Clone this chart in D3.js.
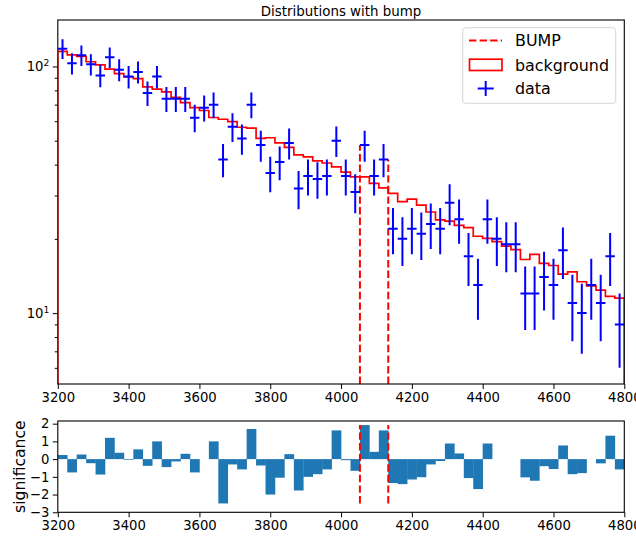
<!DOCTYPE html>
<html>
<head>
<meta charset="utf-8">
<script src="https://cdn.jsdelivr.net/npm/d3@7"></script>
<style>
  body { margin: 0; background: #fff; }
  svg text { font-family: "DejaVu Sans", sans-serif; }
</style>
</head>
<body>
<svg id="chart" width="636" height="538"></svg>
<script>
// ---- data ----
const xMin = 3200, xMax = 4800, nBins = 60;
const dataCounts = [118,103,111,102,92,109,97,91,95,78, 91,74,74,74,62,68,70,42,57,51,
                    70,48,37,41,49,32,36,35,36,50, 36,31,48,36,42,22,20,22,21,23,
                    22,28,24,17,13,24,20,19,19,12, 12,14,13,18,11,10,13,11,17,9];
const background = [115.2,111.4,109.9,104.5,101.4,97.6,93.6,90.7,89.2,82.6,
                    81.0,78.9,75.0,71.4,68.1,66.3,62.1,61.1,59.8,56.7,
                    56.2,51.1,51.4,49.0,47.0,43.8,43.0,41.4,40.6,39.2,
                    37.3,35.7,35.7,33.6,32.2,30.6,28.3,29.0,27.4,25.7,
                    23.9,23.6,22.7,22.2,20.5,20.1,19.5,18.7,18.1,16.5,
                    17.3,15.9,15.6,14.4,14.7,13.4,12.9,12.4,11.7,11.5];
const significance = [0.23,-0.75,0.26,-0.23,-0.87,1.2,0.36,-0.04,0.55,-0.38,
                      1.0,-0.45,-0.13,0.3,-0.75,0,1.0,-2.5,-0.3,-0.58,
                      1.7,-0.36,-2.0,-1.05,0.28,-1.77,-1.0,-0.85,-0.58,1.62,
                      -0.06,-0.66,1.92,0.41,1.62,-1.35,-1.41,-1.15,-1.02,-0.3,
                      -0.11,0.88,0.32,-1.07,-1.69,0.88,0,0,0,-1.03,
                      -1.22,-0.4,-0.56,0.77,-0.85,-0.79,0,-0.24,1.32,-0.58];
const bumpFirstBin = 32, bumpLastBin = 34;
const xTicks = [3200,3400,3600,3800,4000,4200,4400,4600,4800];
const yTopMajor = [10,100];
const yTopMinor = [6,7,8,9,20,30,40,50,60,70,80,90];
const yBotTicks = [-3,-2,-1,0,1,2];
const titleText = "Distributions with bump";
const legendLabels = ["BUMP","background","data"];

// ---- derived ----
const binW = (xMax - xMin) / nBins;
const edges = d3.range(nBins + 1).map(i => xMin + i * binW);
const bumpLo = edges[bumpFirstBin], bumpHi = edges[bumpLastBin + 1];

const svg = d3.select("#chart");
const L = 57.8, R = 624.3;
const x = d3.scaleLinear().domain([xMin, xMax]).range([L, R]);
const topT = 20, topB = 384;
const yTop = d3.scaleLog().domain([5.16, 154.3]).range([topB, topT]);
const botT = 421, botB = 512.3;
const yBot = d3.scaleLinear().domain([-3, 2.15]).range([botB, botT]);

const FS = 13.2;

// ---- top panel ----
const gTop = svg.append("g");
gTop.append("rect").attr("x", L).attr("y", topT).attr("width", R - L).attr("height", topB - topT).attr("fill", "#fff");

const clipTop = svg.append("clipPath").attr("id", "clipTop");
clipTop.append("rect").attr("x", L).attr("y", topT).attr("width", R - L).attr("height", topB - topT);
const gTopPlot = gTop.append("g").attr("clip-path", "url(#clipTop)");

// background step histogram
let pts = [[x(edges[0]), topB + 5]];
background.forEach((v, i) => { pts.push([x(edges[i]), yTop(v)]); pts.push([x(edges[i + 1]), yTop(v)]); });
pts.push([x(edges[nBins]), topB + 5]);
gTopPlot.append("path").attr("d", d3.line()(pts)).attr("fill", "none").attr("stroke", "#ff0000").attr("stroke-width", 1.7);

// bump lines
[[bumpLo, dataCounts[bumpFirstBin]], [bumpHi, dataCounts[bumpLastBin]]].forEach(([bx, top]) => {
  gTopPlot.append("line").attr("x1", x(bx)).attr("x2", x(bx)).attr("y1", topB).attr("y2", yTop(top))
    .attr("stroke", "#ff0000").attr("stroke-width", 2).attr("stroke-dasharray", "7.4,3.2");
});

// data error bars
const gData = gTopPlot.append("g").attr("stroke", "#0000ff").attr("stroke-width", 2);
dataCounts.forEach((n, i) => {
  const cx = (edges[i] + edges[i + 1]) / 2;
  const e = Math.sqrt(n);
  gData.append("line").attr("x1", x(cx)).attr("x2", x(cx)).attr("y1", yTop(n - e)).attr("y2", yTop(n + e));
  gData.append("line").attr("x1", x(edges[i])).attr("x2", x(edges[i + 1])).attr("y1", yTop(n)).attr("y2", yTop(n));
});

// axes top
const axTopX = gTop.append("g").attr("transform", `translate(0,${topB})`)
  .call(d3.axisBottom(x).tickValues(xTicks).tickSize(5).tickPadding(3.5).tickFormat(d3.format("d")));
const axTopYMin = gTop.append("g").attr("transform", `translate(${L},0)`)
  .call(d3.axisLeft(yTop).tickValues(yTopMinor).tickSize(3).tickFormat(""));
const axTopY = gTop.append("g").attr("transform", `translate(${L},0)`)
  .call(d3.axisLeft(yTop).tickValues(yTopMajor).tickSize(5).tickFormat(""));
axTopY.selectAll(".tick").each(function(d) {
  const t = d3.select(this).append("text").attr("x", -8.5).attr("y", 0).attr("dy", "0.32em")
    .attr("text-anchor", "end").attr("fill", "#000").attr("font-size", FS);
  t.append("tspan").text("10");
  t.append("tspan").attr("dy", "-0.55em").attr("font-size", FS * 0.7).text(String(Math.round(Math.log10(d))));
});

// title
svg.append("text").attr("x", (L + R) / 2).attr("y", 15.5).attr("text-anchor", "middle")
  .attr("font-size", 13.4).attr("fill", "#000").text(titleText);

// legend
const lg = svg.append("g");
lg.append("rect").attr("x", 462.7).attr("y", 27.7).attr("width", 153).attr("height", 75.6)
  .attr("rx", 3).attr("fill", "#fff").attr("fill-opacity", 0.8).attr("stroke", "#d6d6d6").attr("stroke-width", 1);
const lgY = [40.5, 64.8, 88.5];
lg.append("line").attr("x1", 469).attr("x2", 502).attr("y1", lgY[0]).attr("y2", lgY[0])
  .attr("stroke", "#ff0000").attr("stroke-width", 2).attr("stroke-dasharray", "7.4,3.2");
lg.append("rect").attr("x", 469.5).attr("y", lgY[1] - 5.6).attr("width", 32.5).attr("height", 11.3)
  .attr("fill", "none").attr("stroke", "#ff0000").attr("stroke-width", 1.7);
lg.append("line").attr("x1", 485.7).attr("x2", 485.7).attr("y1", lgY[2] - 7.5).attr("y2", lgY[2] + 7.5)
  .attr("stroke", "#0000ff").attr("stroke-width", 2);
lg.append("line").attr("x1", 477.7).attr("x2", 493.7).attr("y1", lgY[2]).attr("y2", lgY[2])
  .attr("stroke", "#0000ff").attr("stroke-width", 2);
legendLabels.forEach((s, i) => {
  lg.append("text").attr("x", 515).attr("y", lgY[i]).attr("dy", "0.36em").attr("font-size", 15.9)
    .attr("fill", "#000").text(s);
});

// ---- bottom panel ----
const gBot = svg.append("g");
const clipBot = svg.append("clipPath").attr("id", "clipBot");
clipBot.append("rect").attr("x", L).attr("y", botT).attr("width", R - L).attr("height", botB - botT);
const gBotPlot = gBot.append("g").attr("clip-path", "url(#clipBot)");
gBotPlot.selectAll("rect.bar").data(significance).join("rect").attr("class", "bar")
  .attr("x", (d, i) => x(edges[i]))
  .attr("width", (d, i) => x(edges[i + 1]) - x(edges[i]) + 0.3)
  .attr("y", d => Math.min(yBot(d), yBot(0)))
  .attr("height", d => Math.abs(yBot(d) - yBot(0)))
  .attr("fill", "#1f77b4");
const sMin = d3.min(significance), sMax = d3.max(significance);
[bumpLo, bumpHi].forEach(bx => {
  gBotPlot.append("line").attr("x1", x(bx)).attr("x2", x(bx)).attr("y1", yBot(sMin)).attr("y2", yBot(sMax))
    .attr("stroke", "#ff0000").attr("stroke-width", 2).attr("stroke-dasharray", "7.4,3.2");
});
gBot.append("g").attr("transform", `translate(0,${botB})`)
  .call(d3.axisBottom(x).tickValues(xTicks).tickSize(5).tickPadding(3.5).tickFormat(d3.format("d")));
gBot.append("g").attr("transform", `translate(${L},0)`)
  .call(d3.axisLeft(yBot).tickValues(yBotTicks).tickSize(5).tickPadding(3.5)
        .tickFormat(d => d < 0 ? "\u2212" + Math.abs(d) : String(d)));
svg.append("text").attr("transform", `translate(19.5,${(botT + botB) / 2}) rotate(-90)`)
  .attr("text-anchor", "middle").attr("dy", "0.35em").attr("font-size", 15.6).attr("fill", "#000").text("significance");

// styling + frames
svg.selectAll(".tick text").attr("font-size", FS).attr("font-family", "DejaVu Sans");
svg.selectAll(".domain").remove();
svg.selectAll(".tick line").attr("stroke", "#000").attr("stroke-width", 1);
[[topT, topB], [botT, botB]].forEach(([t, b]) => {
  svg.append("rect").attr("x", L).attr("y", t).attr("width", R - L).attr("height", b - t)
    .attr("fill", "none").attr("stroke", "#000").attr("stroke-width", 1.1);
});
</script>
</body>
</html>
